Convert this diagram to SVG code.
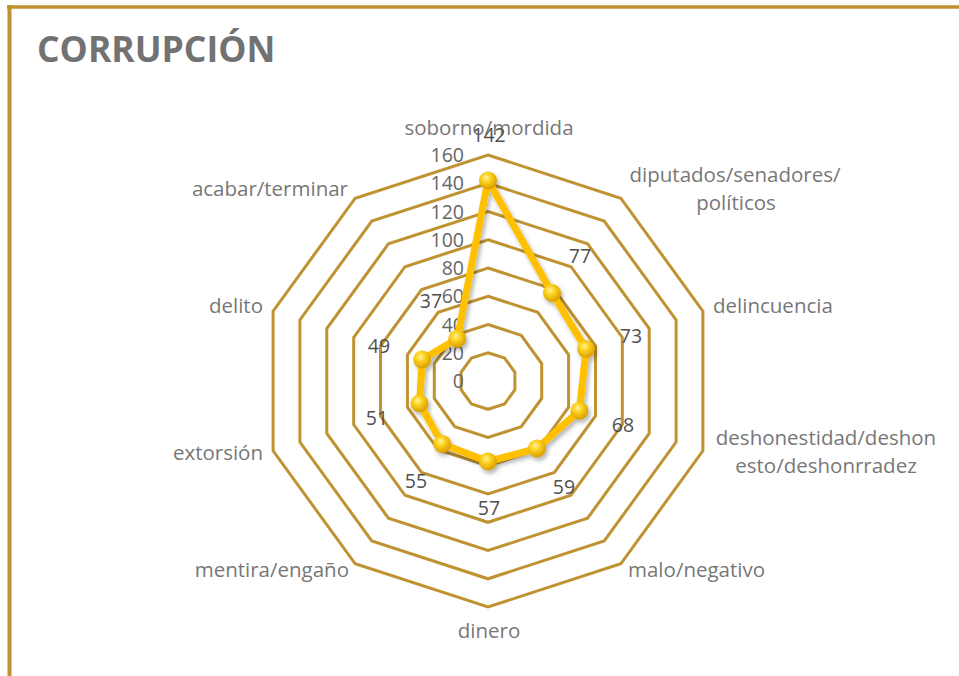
<svg xmlns="http://www.w3.org/2000/svg" width="959" height="676" viewBox="0 0 959 676">
<style>
.ring{fill:none;stroke:#BF9232;stroke-width:3;stroke-linejoin:miter}
.ax{font-family:"Open Sans","Liberation Sans",sans-serif;font-size:20.5px;fill:#777777}
.tk{font-family:"Open Sans","Liberation Sans",sans-serif;font-size:19.5px;fill:#666666;text-anchor:end}
.dl{font-family:"Open Sans","Liberation Sans",sans-serif;font-size:19.5px;fill:#505050;text-anchor:middle}
.title{font-family:"Open Sans","Liberation Sans",sans-serif;font-size:35.5px;font-weight:bold;fill:#727272}
.mk{fill:url(#sph)}
</style>
<defs>
<radialGradient id="sph" cx="0.4" cy="0.35" r="0.65">
<stop offset="0" stop-color="#FFF4A8"/>
<stop offset="0.35" stop-color="#FFD523"/>
<stop offset="1" stop-color="#D89E00"/>
</radialGradient>
<filter id="sh" x="-20%" y="-20%" width="140%" height="140%">
<feDropShadow dx="2" dy="3" stdDeviation="2" flood-color="#000" flood-opacity="0.3"/>
</filter>
</defs>
<rect width="959" height="676" fill="#FFFFFF"/>
<g id="frame" fill="none" stroke="#C0922F">
<line x1="7" y1="7" x2="959" y2="7" stroke-width="3.5"/>
<line x1="9.5" y1="5" x2="9.5" y2="676" stroke-width="4"/>
</g>
<text id="title" class="title" x="37" y="62">CORRUPCIÓN</text>
<g id="grid">
<polygon class="ring" points="488,352.8 504.6,358.1 514.9,372.3 514.9,389.7 504.6,403.9 488,409.3 471.4,403.9 461.1,389.7 461.1,372.3 471.4,358.1"/>
<polygon class="ring" points="488,324.5 521.2,335.3 541.7,363.5 541.7,398.5 521.2,426.7 488,437.5 454.8,426.7 434.3,398.5 434.3,363.5 454.8,335.3"/>
<polygon class="ring" points="488,296.3 537.8,312.4 568.6,354.8 568.6,407.2 537.8,449.6 488,465.8 438.2,449.6 407.4,407.2 407.4,354.8 438.2,312.4"/>
<polygon class="ring" points="488,268 554.4,289.6 595.5,346.1 595.5,415.9 554.4,472.4 488,494 421.6,472.4 380.5,415.9 380.5,346.1 421.6,289.6"/>
<polygon class="ring" points="488,239.8 571,266.7 622.3,337.4 622.3,424.6 571,495.3 488,522.3 405,495.3 353.7,424.6 353.7,337.4 405,266.7"/>
<polygon class="ring" points="488,211.5 587.6,243.9 649.2,328.6 649.2,433.4 587.6,518.1 488,550.5 388.4,518.1 326.8,433.4 326.8,328.6 388.4,243.9"/>
<polygon class="ring" points="488,183.3 604.2,221 676.1,319.9 676.1,442.1 604.2,541 488,578.8 371.8,541 299.9,442.1 299.9,319.9 371.8,221"/>
<polygon class="ring" points="488,155 620.8,198.2 702.9,311.2 702.9,450.8 620.8,563.8 488,607 355.2,563.8 273.1,450.8 273.1,311.2 355.2,198.2"/>
</g>
<g id="ticks">
<text class="tk" x="464" y="388">0</text>
<text class="tk" x="464" y="359.8">20</text>
<text class="tk" x="464" y="331.5">40</text>
<text class="tk" x="464" y="303.3">60</text>
<text class="tk" x="464" y="275">80</text>
<text class="tk" x="464" y="246.8">100</text>
<text class="tk" x="464" y="218.5">120</text>
<text class="tk" x="464" y="190.3">140</text>
<text class="tk" x="464" y="162">160</text>
</g>
<g id="axis-labels">
<text class="ax" x="489" y="135" text-anchor="middle">soborno/mordida</text>
<text class="ax" x="735" y="182" text-anchor="middle">diputados/senadores/</text>
<text class="ax" x="736" y="210" text-anchor="middle">políticos</text>
<text class="ax" x="713" y="313">delincuencia</text>
<text class="ax" x="826" y="445" text-anchor="middle">deshonestidad/deshon</text>
<text class="ax" x="826" y="473" text-anchor="middle">esto/deshonrradez</text>
<text class="ax" x="628" y="577">malo/negativo</text>
<text class="ax" x="489" y="638" text-anchor="middle">dinero</text>
<text class="ax" x="349" y="577" text-anchor="end">mentira/engaño</text>
<text class="ax" x="263" y="460" text-anchor="end">extorsión</text>
<text class="ax" x="263" y="313" text-anchor="end">delito</text>
<text class="ax" x="348" y="196" text-anchor="end">acabar/terminar</text>
</g>
<g id="series" filter="url(#sh)">
<polygon points="488,180.4 552,293 586.1,349.1 579.4,410.7 537,448.4 488,461.5 442.3,443.9 419.5,403.3 422.2,359.6 457.3,338.7" fill="none" stroke="#FFC000" stroke-width="7" stroke-linejoin="round"/>
<g id="markers">
<circle class="mk" cx="488" cy="180.4" r="9"/>
<circle class="mk" cx="552" cy="293" r="9"/>
<circle class="mk" cx="586.1" cy="349.1" r="9"/>
<circle class="mk" cx="579.4" cy="410.7" r="9"/>
<circle class="mk" cx="537" cy="448.4" r="9"/>
<circle class="mk" cx="488" cy="461.5" r="9"/>
<circle class="mk" cx="442.3" cy="443.9" r="9"/>
<circle class="mk" cx="419.5" cy="403.3" r="9"/>
<circle class="mk" cx="422.2" cy="359.6" r="9"/>
<circle class="mk" cx="457.3" cy="338.7" r="9"/>
</g>
</g>
<g id="data-labels">
<text class="dl" x="489" y="142">142</text>
<text class="dl" x="580" y="263">77</text>
<text class="dl" x="631" y="343">73</text>
<text class="dl" x="623" y="432">68</text>
<text class="dl" x="564" y="494">59</text>
<text class="dl" x="489" y="515">57</text>
<text class="dl" x="416" y="488">55</text>
<text class="dl" x="377" y="425">51</text>
<text class="dl" x="379" y="353">49</text>
<text class="dl" x="431" y="308">37</text>
</g>
</svg>
